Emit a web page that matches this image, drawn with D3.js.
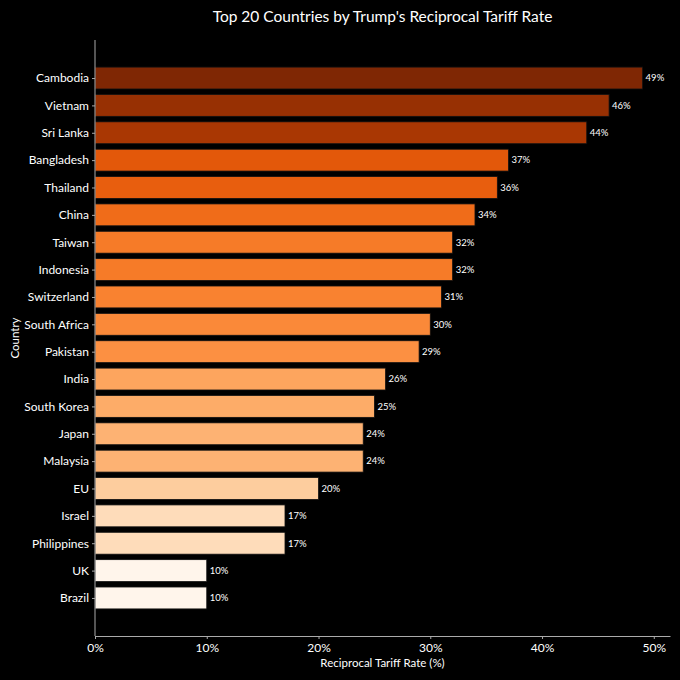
<!DOCTYPE html>
<html lang="en">
<head>
<meta charset="UTF-8">
<title>Top 20 Countries by Trump's Reciprocal Tariff Rate</title>
<script src="https://d3js.org/d3.v7.min.js"></script>
<style>
    body { margin: 0; background: #000; }
    svg { display: block; font-family: Lato, "Open Sans", sans-serif; }
    .tick text { fill: #fff; font-size: 12px; font-family: Lato, "Open Sans", sans-serif; }
    .domain, .tick line { stroke: #aaa; }
</style>
</head>
<body>
<div id="chart"></div>
<script>
    // data
    var countries = ["Cambodia", "Vietnam", "Sri Lanka", "Bangladesh", "Thailand", "China", "Taiwan",
        "Indonesia", "Switzerland", "South Africa", "Pakistan", "India", "South Korea", "Japan",
        "Malaysia", "EU", "Israel", "Philippines", "UK", "Brazil"];
    var rates = [49, 46, 44, 37, 36, 34, 32, 32, 31, 30, 29, 26, 25, 24, 24, 20, 17, 17, 10, 10];
    var xTicks = [0, 10, 20, 30, 40, 50];

    var W = 680, H = 680;
    var margin = {left: 95, right: 670, top: 40, bottom: 636};

    var svg = d3.select("#chart").append("svg")
        .attr("width", W)
        .attr("height", H);

    svg.append("rect").attr("width", W).attr("height", H).attr("fill", "#000");

    var x = d3.scaleLinear()
        .domain([0, d3.max(rates) * 1.05])
        .range([margin.left, margin.right]);

    // matplotlib-like y limits with 5% margin
    var y = d3.scaleLinear()
        .domain([-1.39, countries.length - 1 + 1.39])
        .range([margin.top, margin.bottom]);

    var color = d3.scaleSequential(d3.interpolateOranges)
        .domain([d3.min(rates), d3.max(rates)]);

    var barH = y(0.8) - y(0);

    svg.append("g").selectAll("rect")
        .data(countries)
        .join("rect")
        .attr("x", x(0))
        .attr("y", function(d, i) { return y(i) - barH / 2; })
        .attr("width", function(d, i) { return x(rates[i]) - x(0); })
        .attr("height", barH)
        .attr("fill", function(d, i) { return color(rates[i]); })
        .attr("stroke", "#111")
        .attr("stroke-width", 0.8);

    // value labels
    svg.append("g").selectAll("text")
        .data(countries)
        .join("text")
        .attr("x", function(d, i) { return x(rates[i]) + 3; })
        .attr("y", function(d, i) { return y(i); })
        .attr("dy", "0.35em")
        .attr("fill", "#fff")
        .attr("font-size", 9.5)
        .text(function(d, i) { return rates[i] + "%"; });

    // axes
    svg.append("g")
        .attr("transform", "translate(0," + margin.bottom + ")")
        .call(d3.axisBottom(x).tickValues(xTicks).tickSize(3).tickSizeOuter(0)
            .tickFormat(function(d) { return d + "%"; }))
        .call(function(g) { g.selectAll(".tick text").attr("dy", "0.85em"); });

    svg.append("g")
        .attr("transform", "translate(" + margin.left + ",0)")
        .call(d3.axisLeft(d3.scaleOrdinal().domain(countries).range(countries.map(function(d, i) { return y(i); })))
            .tickSize(3).tickSizeOuter(0))
        .call(function(g) {
            g.select(".domain").attr("d", "M0," + margin.top + "V" + margin.bottom);
        });

    // titles
    svg.append("text")
        .attr("x", (margin.left + margin.right) / 2)
        .attr("y", 22)
        .attr("text-anchor", "middle")
        .attr("fill", "#fff")
        .attr("font-size", 15.5)
        .text("Top 20 Countries by Trump's Reciprocal Tariff Rate");

    svg.append("text")
        .attr("x", (margin.left + margin.right) / 2)
        .attr("y", 667)
        .attr("text-anchor", "middle")
        .attr("fill", "#fff")
        .attr("font-size", 11.5)
        .text("Reciprocal Tariff Rate (%)");

    svg.append("text")
        .attr("transform", "translate(19," + (margin.top + margin.bottom) / 2 + ") rotate(-90)")
        .attr("text-anchor", "middle")
        .attr("fill", "#fff")
        .attr("font-size", 11.5)
        .text("Country");
</script>
</body>
</html>
